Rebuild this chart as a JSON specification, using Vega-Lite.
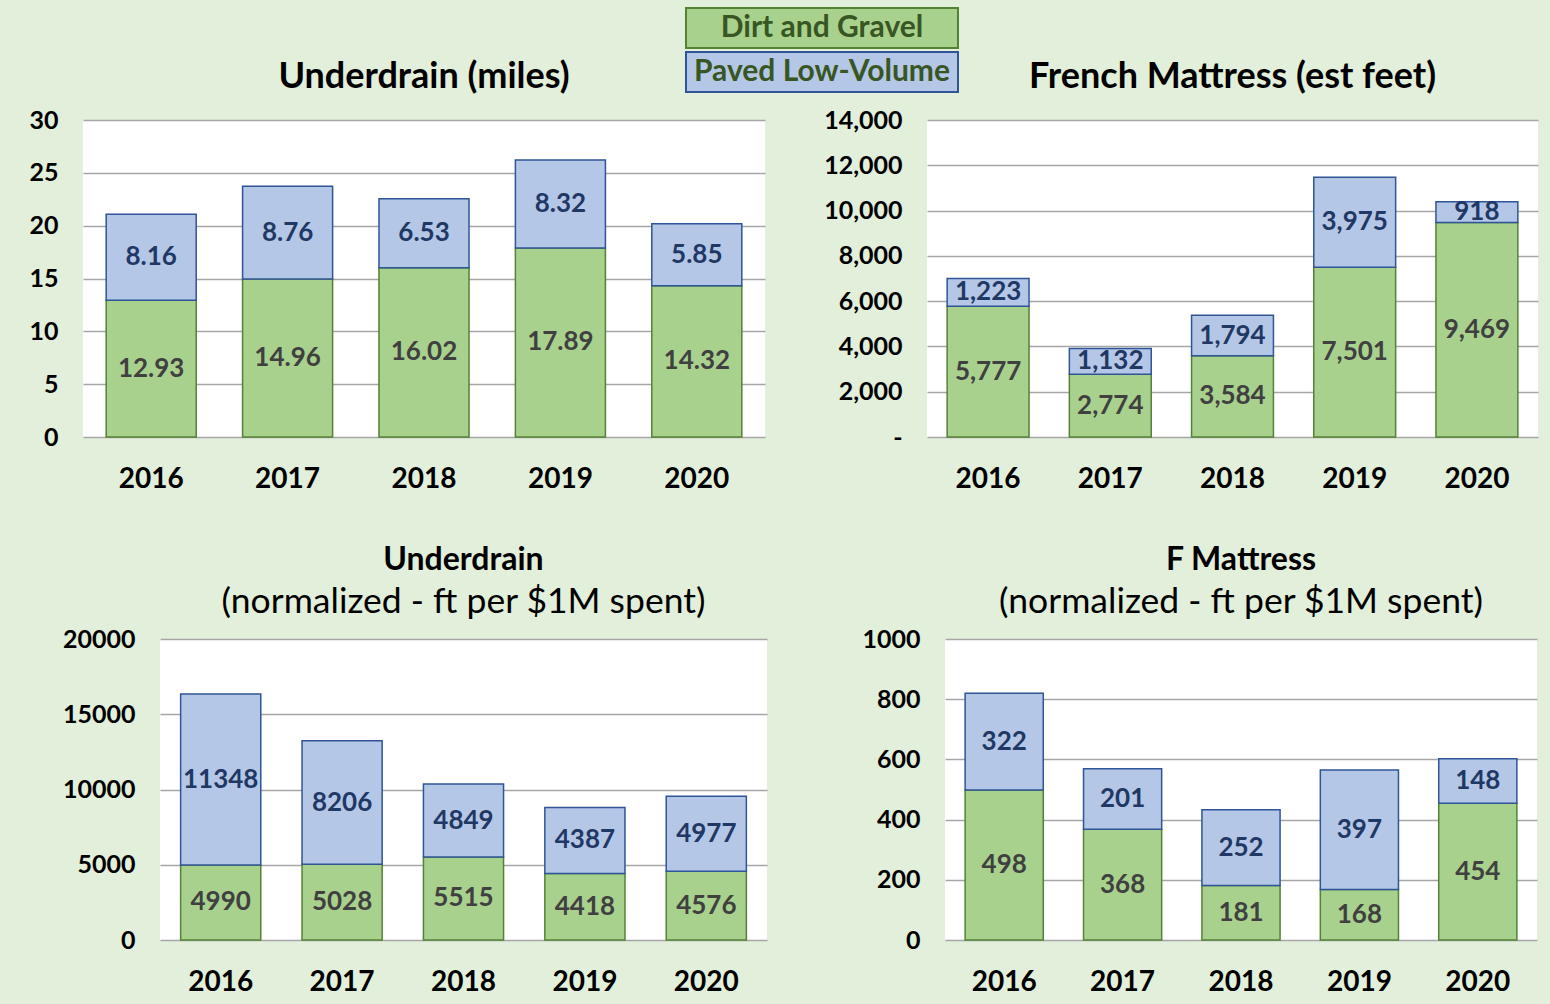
{
  "$schema": "https://vega.github.io/schema/vega-lite/v6.json",
  "background": "#E2EFDA",
  "padding": {"left": 28, "top": 8, "right": 12, "bottom": 9},
  "datasets": {
    "ud": [
      {"year": "2016", "type": "Dirt and Gravel", "value": 12.93},
      {"year": "2016", "type": "Paved Low-Volume", "value": 8.16},
      {"year": "2017", "type": "Dirt and Gravel", "value": 14.96},
      {"year": "2017", "type": "Paved Low-Volume", "value": 8.76},
      {"year": "2018", "type": "Dirt and Gravel", "value": 16.02},
      {"year": "2018", "type": "Paved Low-Volume", "value": 6.53},
      {"year": "2019", "type": "Dirt and Gravel", "value": 17.89},
      {"year": "2019", "type": "Paved Low-Volume", "value": 8.32},
      {"year": "2020", "type": "Dirt and Gravel", "value": 14.32},
      {"year": "2020", "type": "Paved Low-Volume", "value": 5.85}
    ],
    "fm": [
      {"year": "2016", "type": "Dirt and Gravel", "value": 5777},
      {"year": "2016", "type": "Paved Low-Volume", "value": 1223},
      {"year": "2017", "type": "Dirt and Gravel", "value": 2774},
      {"year": "2017", "type": "Paved Low-Volume", "value": 1132},
      {"year": "2018", "type": "Dirt and Gravel", "value": 3584},
      {"year": "2018", "type": "Paved Low-Volume", "value": 1794},
      {"year": "2019", "type": "Dirt and Gravel", "value": 7501},
      {"year": "2019", "type": "Paved Low-Volume", "value": 3975},
      {"year": "2020", "type": "Dirt and Gravel", "value": 9469},
      {"year": "2020", "type": "Paved Low-Volume", "value": 918}
    ],
    "udn": [
      {"year": "2016", "type": "Dirt and Gravel", "value": 4990},
      {"year": "2016", "type": "Paved Low-Volume", "value": 11348},
      {"year": "2017", "type": "Dirt and Gravel", "value": 5028},
      {"year": "2017", "type": "Paved Low-Volume", "value": 8206},
      {"year": "2018", "type": "Dirt and Gravel", "value": 5515},
      {"year": "2018", "type": "Paved Low-Volume", "value": 4849},
      {"year": "2019", "type": "Dirt and Gravel", "value": 4418},
      {"year": "2019", "type": "Paved Low-Volume", "value": 4387},
      {"year": "2020", "type": "Dirt and Gravel", "value": 4576},
      {"year": "2020", "type": "Paved Low-Volume", "value": 4977}
    ],
    "fmn": [
      {"year": "2016", "type": "Dirt and Gravel", "value": 498},
      {"year": "2016", "type": "Paved Low-Volume", "value": 322},
      {"year": "2017", "type": "Dirt and Gravel", "value": 368},
      {"year": "2017", "type": "Paved Low-Volume", "value": 201},
      {"year": "2018", "type": "Dirt and Gravel", "value": 181},
      {"year": "2018", "type": "Paved Low-Volume", "value": 252},
      {"year": "2019", "type": "Dirt and Gravel", "value": 168},
      {"year": "2019", "type": "Paved Low-Volume", "value": 397},
      {"year": "2020", "type": "Dirt and Gravel", "value": 454},
      {"year": "2020", "type": "Paved Low-Volume", "value": 148}
    ],
    "none": []
  },
  "config": {
    "font": "Lato",
    "view": {"fill": "white", "stroke": null},
    "axis": {"title": null, "ticks": false, "domain": false, "labelFont": "Lato", "labelFontWeight": "bold", "labelColor": "black"},
    "axisY": {"gridColor": "#A6A6A6", "gridWidth": 1.5, "labelFontSize": 25, "labelPadding": 25},
    "axisX": {"grid": false, "labelFontSize": 28, "labelPadding": 42, "labelAngle": 0, "labelBaseline": "middle"},
    "title": {"frame": "group", "font": "Lato", "fontSize": 36, "fontWeight": "bold", "color": "black", "anchor": "middle", "offset": 12, "subtitleFont": "Lato", "subtitleFontSize": 35.5, "subtitleFontWeight": "normal", "subtitleColor": "black", "subtitlePadding": 8},
    "legend": {"orient": "none", "legendX": 603, "legendY": -112, "title": null, "padding": 0, "rowPadding": -8,
      "symbolType": "M-7.158,-1.0526H7.158V1.0526H-7.158Z", "symbolSize": 1444, "symbolStrokeWidth": 2, "symbolOpacity": 1, "symbolOffset": 116,
      "labelOffset": -20, "labelAlign": "center", "labelBaseline": "middle", "labelFont": "Lato", "labelFontSize": 30, "labelFontWeight": "bold", "labelColor": "#375623", "labelLimit": 600}
  },
  "spacing": 50,
  "vconcat": [
    {
      "hconcat": [
        {
          "data": {"name": "ud"},
          "width": 682,
          "height": 317,
          "title": "Underdrain (miles)",
          "encoding": {
            "x": {"field": "year", "type": "ordinal", "scale": {"paddingInner": 0.34, "paddingOuter": 0.17}},
            "y": {"field": "value", "type": "quantitative", "stack": "zero", "scale": {"domain": [0, 30]}, "axis": {"values": [0, 5, 10, 15, 20, 25, 30]}}
          },
          "layer": [
            {
              "mark": {"type": "bar", "strokeWidth": 1.5},
              "encoding": {
                "color": {"field": "type", "type": "nominal", "scale": {"domain": ["Dirt and Gravel", "Paved Low-Volume"], "range": ["#A9D18E", "#B4C7E7"]}},
                "stroke": {"field": "type", "type": "nominal", "scale": {"domain": ["Dirt and Gravel", "Paved Low-Volume"], "range": ["#548235", "#2F5597"]}},
                "order": {"field": "type", "type": "ordinal", "sort": "ascending"}
              }
            },
            {
              "mark": {"type": "text", "font": "Lato", "fontSize": 26, "fontWeight": "bold", "baseline": "middle"},
              "encoding": {
                "y": {"field": "value", "type": "quantitative", "stack": "zero", "bandPosition": 0.5},
                "detail": {"field": "type", "type": "nominal"},
                "order": {"field": "type", "type": "ordinal", "sort": "ascending"},
                "text": {"field": "value", "type": "quantitative", "format": ".2f"},
                "color": {"condition": {"test": "datum.type === 'Paved Low-Volume'", "value": "#1F3864"}, "value": "#404040"}
              }
            }
          ]
        },
        {
          "data": {"name": "fm"},
          "width": 611,
          "height": 317,
          "title": "French Mattress (est feet)",
          "encoding": {
            "x": {"field": "year", "type": "ordinal", "scale": {"paddingInner": 0.33, "paddingOuter": 0.165}},
            "y": {"field": "value", "type": "quantitative", "stack": "zero", "scale": {"domain": [0, 14000]}, "axis": {"values": [0, 2000, 4000, 6000, 8000, 10000, 12000, 14000], "labelExpr": "datum.value === 0 ? '-' : format(datum.value, ',')"}}
          },
          "layer": [
            {
              "mark": {"type": "bar", "strokeWidth": 1.5},
              "encoding": {
                "color": {"field": "type", "type": "nominal", "scale": {"domain": ["Dirt and Gravel", "Paved Low-Volume"], "range": ["#A9D18E", "#B4C7E7"]}},
                "stroke": {"field": "type", "type": "nominal", "scale": {"domain": ["Dirt and Gravel", "Paved Low-Volume"], "range": ["#548235", "#2F5597"]}},
                "order": {"field": "type", "type": "ordinal", "sort": "ascending"}
              }
            },
            {
              "mark": {"type": "text", "font": "Lato", "fontSize": 26, "fontWeight": "bold", "baseline": "middle"},
              "encoding": {
                "y": {"field": "value", "type": "quantitative", "stack": "zero", "bandPosition": 0.5},
                "detail": {"field": "type", "type": "nominal"},
                "order": {"field": "type", "type": "ordinal", "sort": "ascending"},
                "text": {"field": "value", "type": "quantitative", "format": ","},
                "color": {"condition": {"test": "datum.type === 'Paved Low-Volume'", "value": "#1F3864"}, "value": "#404040"}
              }
            }
          ]
        }
      ],
      "spacing": 162,
      "bounds": "flush"
    },
    {
      "hconcat": [
        {
          "data": {"name": "none"},
          "width": 77,
          "height": 301,
          "view": {"fill": null, "stroke": null},
          "mark": {"type": "point"},
          "encoding": {}
        },
        {
          "hconcat": [
            {
              "data": {"name": "udn"},
              "width": 607,
              "height": 301,
              "title": {"text": "Underdrain", "subtitle": "(normalized - ft per $1M spent)", "fontSize": 32, "offset": 6, "subtitlePadding": 8},
              "encoding": {
                "x": {"field": "year", "type": "ordinal", "scale": {"paddingInner": 0.34, "paddingOuter": 0.17}},
                "y": {"field": "value", "type": "quantitative", "stack": "zero", "scale": {"domain": [0, 20000]}, "axis": {"values": [0, 5000, 10000, 15000, 20000], "format": "d"}}
              },
              "layer": [
                {
                  "mark": {"type": "bar", "strokeWidth": 1.5},
                  "encoding": {
                    "color": {"field": "type", "type": "nominal", "scale": {"domain": ["Dirt and Gravel", "Paved Low-Volume"], "range": ["#A9D18E", "#B4C7E7"]}},
                    "stroke": {"field": "type", "type": "nominal", "scale": {"domain": ["Dirt and Gravel", "Paved Low-Volume"], "range": ["#548235", "#2F5597"]}},
                    "order": {"field": "type", "type": "ordinal", "sort": "ascending"}
                  }
                },
                {
                  "mark": {"type": "text", "font": "Lato", "fontSize": 26, "fontWeight": "bold", "baseline": "middle"},
                  "encoding": {
                    "y": {"field": "value", "type": "quantitative", "stack": "zero", "bandPosition": 0.5},
                    "detail": {"field": "type", "type": "nominal"},
                    "order": {"field": "type", "type": "ordinal", "sort": "ascending"},
                    "text": {"field": "value", "type": "quantitative", "format": "d"},
                    "color": {"condition": {"test": "datum.type === 'Paved Low-Volume'", "value": "#1F3864"}, "value": "#404040"}
                  }
                }
              ]
            },
            {
              "data": {"name": "fmn"},
              "width": 592,
              "height": 301,
              "title": {"text": "F Mattress", "subtitle": "(normalized - ft per $1M spent)", "fontSize": 32, "offset": 6, "subtitlePadding": 8},
              "encoding": {
                "x": {"field": "year", "type": "ordinal", "scale": {"paddingInner": 0.34, "paddingOuter": 0.17}},
                "y": {"field": "value", "type": "quantitative", "stack": "zero", "scale": {"domain": [0, 1000]}, "axis": {"values": [0, 200, 400, 600, 800, 1000], "format": "d"}}
              },
              "layer": [
                {
                  "mark": {"type": "bar", "strokeWidth": 1.5},
                  "encoding": {
                    "color": {"field": "type", "type": "nominal", "scale": {"domain": ["Dirt and Gravel", "Paved Low-Volume"], "range": ["#A9D18E", "#B4C7E7"]}},
                    "stroke": {"field": "type", "type": "nominal", "scale": {"domain": ["Dirt and Gravel", "Paved Low-Volume"], "range": ["#548235", "#2F5597"]}},
                    "order": {"field": "type", "type": "ordinal", "sort": "ascending"}
                  }
                },
                {
                  "mark": {"type": "text", "font": "Lato", "fontSize": 26, "fontWeight": "bold", "baseline": "middle"},
                  "encoding": {
                    "y": {"field": "value", "type": "quantitative", "stack": "zero", "bandPosition": 0.5},
                    "detail": {"field": "type", "type": "nominal"},
                    "order": {"field": "type", "type": "ordinal", "sort": "ascending"},
                    "text": {"field": "value", "type": "quantitative", "format": "d"},
                    "color": {"condition": {"test": "datum.type === 'Paved Low-Volume'", "value": "#1F3864"}, "value": "#404040"}
                  }
                }
              ]
            }
          ],
          "spacing": 178,
          "bounds": "flush"
        }
      ],
      "spacing": 0,
      "bounds": "flush"
    }
  ]
}
